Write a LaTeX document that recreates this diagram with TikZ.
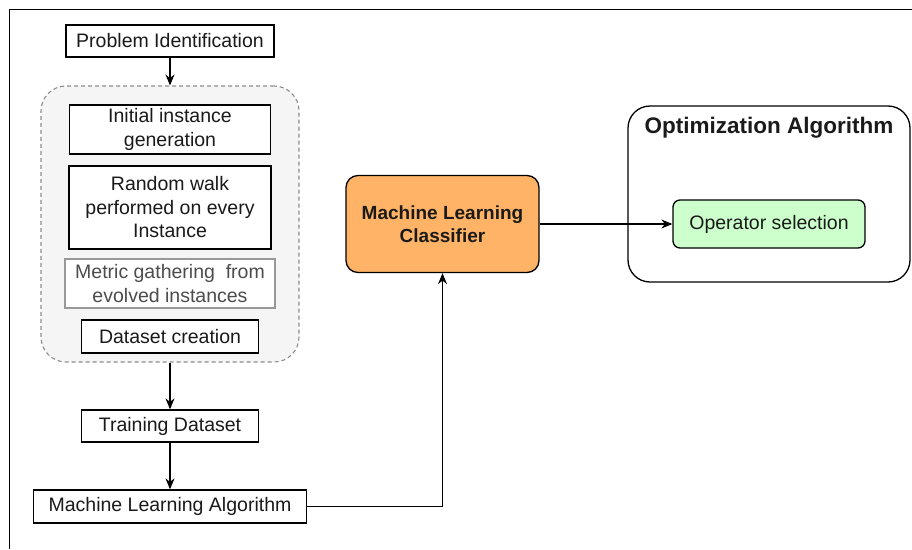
\documentclass[tikz,border=0pt]{standalone}
\usepackage{fontspec}
\setmainfont{Liberation Sans}
\usetikzlibrary{arrows.meta}
\definecolor{orangefill}{HTML}{FFB366}
\definecolor{greenfill}{HTML}{CCFFCC}
\definecolor{contfill}{HTML}{F5F5F5}
\definecolor{contline}{HTML}{8C8C8C}
\definecolor{txt}{HTML}{1A1A1A}
\tikzset{
  box/.style={draw=black, fill=white, line width=1.3pt, inner sep=0pt, align=center, text=txt,
    font=\fontsize{19.5}{23.5}\selectfont},
  greybox/.style={box, draw=gray!80, line width=1.1pt, text=black!70},
  conn/.style={line width=1.2pt, -{Stealth[length=11pt,width=9pt]}},
}
\begin{document}
\begin{tikzpicture}[x=1pt,y=-1pt]
\useasboundingbox (0,0) rectangle (912,549);
% outer frame (only top and left visible)
\draw[line width=1.3pt] (912,9.5) -- (9.5,9.5) -- (9.5,549);
% dashed container
\node[draw=contline, fill=contfill, dashed, dash pattern=on 4pt off 3pt, line width=1.1pt,
      rounded corners=25pt, minimum width=258pt, minimum height=276pt, inner sep=0pt]
      (cont) at (170,224) {};
\node[box, minimum width=208pt, minimum height=32pt] (pid) at (170,41) {Problem Identification};
\node[box, minimum width=201pt, minimum height=49pt] (init) at (170,129.5) {Initial instance\\generation};
\node[box, minimum width=202pt, minimum height=83pt] (rw) at (170,207.5) {Random walk\\performed on every\\Instance};
\node[greybox, minimum width=210pt, minimum height=49pt] (metric) at (170,283.5) {Metric gathering \ from\\evolved instances};
\node[box, minimum width=177pt, minimum height=33pt] (ds) at (170,336.5) {Dataset creation};
\node[box, minimum width=177pt, minimum height=32pt] (td) at (170,426) {Training Dataset};
\node[box, minimum width=273pt, minimum height=33pt] (mla) at (170,506.5) {Machine Learning Algorithm};
% classifier
\node[box, fill=orangefill, rounded corners=12pt, minimum width=193pt, minimum height=97pt,
      font=\fontsize{19}{23.5}\selectfont\bfseries] (mlc) at (442.5,224) {Machine Learning\\Classifier};
% optimization container
\node[draw=black, line width=1.3pt, rounded corners=22pt, minimum width=282pt, minimum height=176pt,
      inner sep=0pt] (oa) at (769,194) {};
\node[text=txt, font=\fontsize{22.5}{26}\selectfont\bfseries, anchor=center] (oat) at (769,128) {Optimization Algorithm};
\node[box, fill=greenfill, rounded corners=7pt, minimum width=192pt, minimum height=48pt] (opc) at (769,224) {Operator selection};
% connectors
\draw[conn] (pid.south) -- (cont.north);
\draw[conn] (cont.south) -- (td.north);
\draw[conn] (td.south) -- (mla.north);
\draw[conn] (mla.east) -| (mlc.south);
\draw[conn] (mlc.east) -- (opc.west);
\end{tikzpicture}
\end{document}
